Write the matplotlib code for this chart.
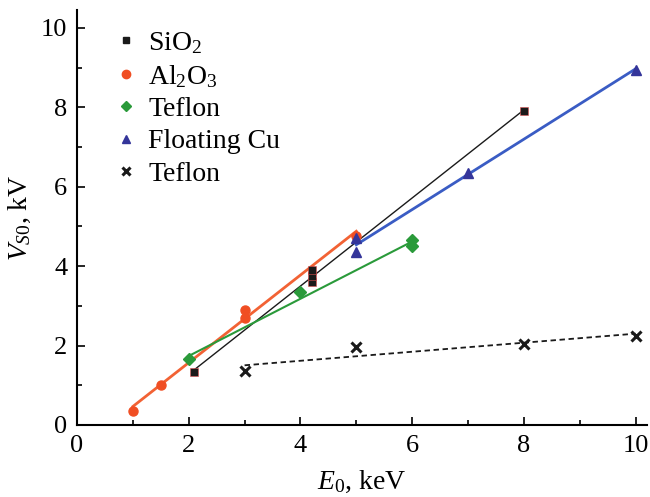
import numpy as np
import matplotlib
matplotlib.use("Agg")
import matplotlib.pyplot as plt
from matplotlib.lines import Line2D

plt.rcParams['font.family'] = ['Liberation Serif', 'DejaVu Serif']
plt.rcParams['mathtext.fontset'] = 'custom'
plt.rcParams['mathtext.rm'] = 'Liberation Serif'
plt.rcParams['mathtext.it'] = 'Liberation Serif:italic'

# Data
sio2_E = [2.1, 4.2, 4.2, 4.2, 8.0]
sio2_V = [1.33, 3.6, 3.75, 3.9, 7.9]
al2o3_E = [1.0, 1.5, 3.0, 3.0, 5.0]
al2o3_V = [0.35, 1.0, 2.7, 2.9, 4.75]
teflon_E = [2.0, 4.0, 6.0, 6.0]
teflon_V = [1.65, 3.35, 4.5, 4.65]
cu_E = [5.0, 5.0, 7.0, 10.0]
cu_V = [4.35, 4.7, 6.35, 8.95]
teflon2_E = [3.0, 5.0, 8.0, 10.0]
teflon2_V = [1.35, 1.95, 2.05, 2.25]

labels = ['SiO$_2$', 'Al$_2$O$_3$', 'Teflon', 'Floating Cu', 'Teflon']
xticks = [0, 2, 4, 6, 8, 10]
yticks = [0, 2, 4, 6, 8, 10]

fig = plt.figure(figsize=(6.5, 4.97), dpi=100)
ax = fig.add_axes([0.1185, 0.145, 0.8765, 0.835])

def fitline(E, V, color, lw, ls='-'):
    p = np.polyfit(E, V, 1)
    xs = np.array([min(E), max(E)])
    ax.plot(xs, np.polyval(p, xs), color=color, lw=lw, ls=ls, zorder=2)

fitline(sio2_E, sio2_V, '#1a1a1a', 1.0)
fitline(al2o3_E, al2o3_V, '#f26234', 2.0)
fitline(teflon_E, teflon_V, '#2a9a3a', 1.5)
fitline(cu_E, cu_V, '#3a5cc4', 2.0)
fitline(teflon2_E, teflon2_V, '#1a1a1a', 1.3, ls=(0, (3, 2)))

ax.plot(al2o3_E, al2o3_V, 'o', color='#f04e23', ms=6.5, mec='#f04e23', zorder=3)
ax.plot(sio2_E, sio2_V, 's', color='#1a1a1a', ms=6, mec='#e05050', mew=0.4, zorder=3)
ax.plot(teflon_E, teflon_V, 'D', color='#2a9a3a', ms=6, zorder=3)
ax.plot(cu_E, cu_V, '^', color='#34359a', ms=7, zorder=4)
ax.plot(teflon2_E, teflon2_V, 'x', color='#1a1a1a', ms=7, mew=2.2, zorder=3)

handles = [
    Line2D([], [], ls='', marker='s', color='#1a1a1a', ms=5),
    Line2D([], [], ls='', marker='o', color='#f04e23', ms=6),
    Line2D([], [], ls='', marker='D', color='#2a9a3a', ms=5),
    Line2D([], [], ls='', marker='^', color='#34359a', ms=6),
    Line2D([], [], ls='', marker='x', color='#1a1a1a', ms=6, mew=2.2),
]
ax.legend(handles, labels, loc='upper left', bbox_to_anchor=(0.018, 1.012),
          frameon=False, fontsize=20, handletextpad=0.3, labelspacing=0.25,
          handlelength=1.0)

ax.set_xlim(0, 10.2)
ax.set_ylim(0, 10.45)
ax.set_xticks(xticks)
ax.set_yticks(yticks)
ax.set_xticks(np.arange(1, 10, 2), minor=True)
ax.set_yticks(np.arange(1, 10, 2), minor=True)
ax.tick_params(which='both', direction='in', labelsize=19, width=1.2)
ax.tick_params(which='major', length=6, pad=7)
ax.tick_params(which='minor', length=3.5)
for s in ['top', 'right']:
    ax.spines[s].set_visible(False)
for s in ['left', 'bottom']:
    ax.spines[s].set_linewidth(1.5)

ax.set_xlabel('$E_0$, keV', fontsize=20, labelpad=9)
ax.set_ylabel('$V_{S0}$, kV', fontsize=20, labelpad=6)

fig.savefig('out.png', dpi=100)
